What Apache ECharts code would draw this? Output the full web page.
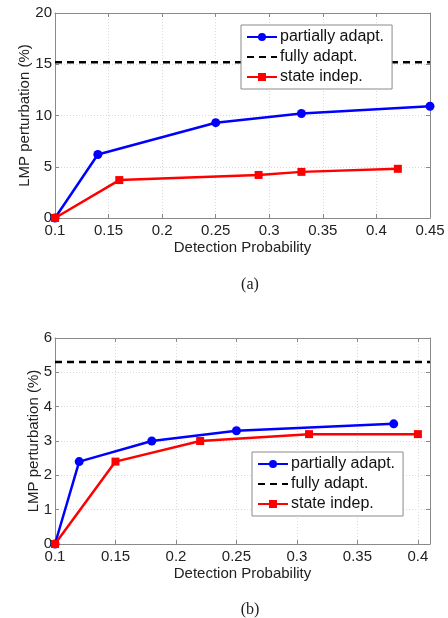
<!DOCTYPE html>
<html>
<head>
<meta charset="utf-8">
<script src="https://cdn.jsdelivr.net/npm/echarts@6/dist/echarts.min.js"></script>
<style>
  html, body { margin: 0; padding: 0; background: #fff; }
  #main { width: 448px; height: 618px; }
</style>
</head>
<body>
<div id="main"></div>
<script>
// panel (a)
const aPartialX = [0.1, 0.14, 0.25, 0.33, 0.45];
const aPartialY = [0, 6.2, 9.3, 10.2, 10.9];
const aIndepX = [0.1, 0.16, 0.29, 0.33, 0.42];
const aIndepY = [0, 3.7, 4.2, 4.5, 4.8];
const aFully = 15.2;
// panel (b)
const bPartialX = [0.1, 0.12, 0.18, 0.25, 0.38];
const bPartialY = [0, 2.4, 3.0, 3.3, 3.5];
const bIndepX = [0.1, 0.15, 0.22, 0.31, 0.4];
const bIndepY = [0, 2.4, 3.0, 3.2, 3.2];
const bFully = 5.3;

const names = ['partially adapt.', 'fully adapt.', 'state indep.'];

function pairs(xs, ys) { return xs.map((x, i) => [x, ys[i]]); }

let chart = echarts.init(document.getElementById('main'));

const font = 'Liberation Sans, Arial, sans-serif';
const frame = '#8a8a8a';

function mainX(grid, min, max) {
  return {
    type: 'value', gridIndex: grid, min: min, max: max, interval: 0.05,
    name: 'Detection Probability', nameLocation: 'middle', nameGap: 22,
    nameTextStyle: { fontFamily: font, fontSize: 15, color: '#222' },
    axisLine: { show: true, onZero: false, lineStyle: { color: frame } },
    axisTick: { inside: true, length: 4, lineStyle: { color: frame } },
    axisLabel: { fontFamily: font, fontSize: 15, color: '#222', margin: 5,
      showMaxLabel: max === 0.45, formatter: v => String(+v.toFixed(2)) },
    splitLine: { show: true, lineStyle: { color: '#d9d9d9', type: [1, 2] } }
  };
}
// y name sits at a fixed distance from the axis, as in the original
function mainY(grid, max, step, gap) {
  return {
    type: 'value', gridIndex: grid, min: 0, max: max, interval: step,
    name: 'LMP perturbation (%)', nameLocation: 'middle', nameGap: gap,
    nameMoveOverlap: false,
    nameTextStyle: { fontFamily: font, fontSize: 15, color: '#222' },
    axisLine: { show: true, onZero: false, lineStyle: { color: frame } },
    axisTick: { inside: true, length: 4, lineStyle: { color: frame } },
    axisLabel: { fontFamily: font, fontSize: 15, color: '#222', margin: 3 },
    splitLine: { show: true, lineStyle: { color: '#d9d9d9', type: [1, 2] } }
  };
}
function sideX(grid, min, max) {
  return {
    type: 'value', gridIndex: grid, position: 'top', min: min, max: max, interval: 0.05,
    axisLine: { show: true, onZero: false, lineStyle: { color: frame } },
    axisTick: { inside: true, length: 4, lineStyle: { color: frame } },
    axisLabel: { show: false }, splitLine: { show: false }
  };
}
function sideY(grid, max, step) {
  return {
    type: 'value', gridIndex: grid, position: 'right', min: 0, max: max, interval: step,
    axisLine: { show: true, onZero: false, lineStyle: { color: frame } },
    axisTick: { inside: true, length: 4, lineStyle: { color: frame } },
    axisLabel: { show: false }, splitLine: { show: false }
  };
}

function lineSeries(name, color, symbol, data, xi, yi) {
  return {
    name: name, type: 'line', xAxisIndex: xi, yAxisIndex: yi, data: data,
    symbol: symbol, symbolSize: symbol === 'circle' ? 9 : 8,
    lineStyle: { color: color, width: 2.5 },
    itemStyle: { color: color },
    z: 3
  };
}
function fullySeries(val, min, max, xi, yi) {
  return {
    name: names[1], type: 'line', xAxisIndex: xi, yAxisIndex: yi,
    data: [[min, val], [max, val]], symbol: 'none',
    lineStyle: { color: '#000', width: 2.5, type: [7, 5] },
    itemStyle: { color: '#000' }
  };
}

function legendAt(left, top) {
  return {
    data: [
      names[0],
      { name: names[1], itemStyle: { color: 'transparent', borderWidth: 0 } },
      names[2]
    ],
    orient: 'vertical', left: left, top: top,
    backgroundColor: '#fff', borderColor: frame, borderWidth: 1,
    padding: [4, 8, 4, 5], itemGap: 4, itemWidth: 30, itemHeight: 10,
    textStyle: { fontFamily: font, fontSize: 16, color: '#111', padding: [0, 0, 0, -2] },
    selectedMode: false
  };
}

const captionStyle = { fontFamily: 'Liberation Serif, Times New Roman, serif', fontSize: 16, fontWeight: 'normal', color: '#222' };

let option = {
  backgroundColor: '#fff',
  animation: false,
  title: [
    { text: '(a)', left: 245, top: 272, textAlign: 'center', textStyle: captionStyle },
    { text: '(b)', left: 245, top: 597, textAlign: 'center', textStyle: captionStyle }
  ],
  grid: [
    { left: 55, right: 18, top: 13, height: 205 },
    { left: 55, right: 18, top: 338, height: 206 }
  ],
  legend: [legendAt(241, 25), legendAt(252, 452)],
  xAxis: [mainX(0, 0.1, 0.45), sideX(0, 0.1, 0.45), mainX(1, 0.1, 0.41), sideX(1, 0.1, 0.41)],
  yAxis: [mainY(0, 20, 5, 23), sideY(0, 20, 5), mainY(1, 6, 1, 14), sideY(1, 6, 1)],
  series: [
    lineSeries(names[0], '#0000ff', 'circle', pairs(aPartialX, aPartialY), 0, 0),
    fullySeries(aFully, 0.1, 0.45, 0, 0),
    lineSeries(names[2], '#ff0000', 'rect', pairs(aIndepX, aIndepY), 0, 0),
    lineSeries(names[0], '#0000ff', 'circle', pairs(bPartialX, bPartialY), 2, 2),
    fullySeries(bFully, 0.1, 0.41, 2, 2),
    lineSeries(names[2], '#ff0000', 'rect', pairs(bIndepX, bIndepY), 2, 2)
  ]
};
chart.setOption(option);
</script>
</body>
</html>
